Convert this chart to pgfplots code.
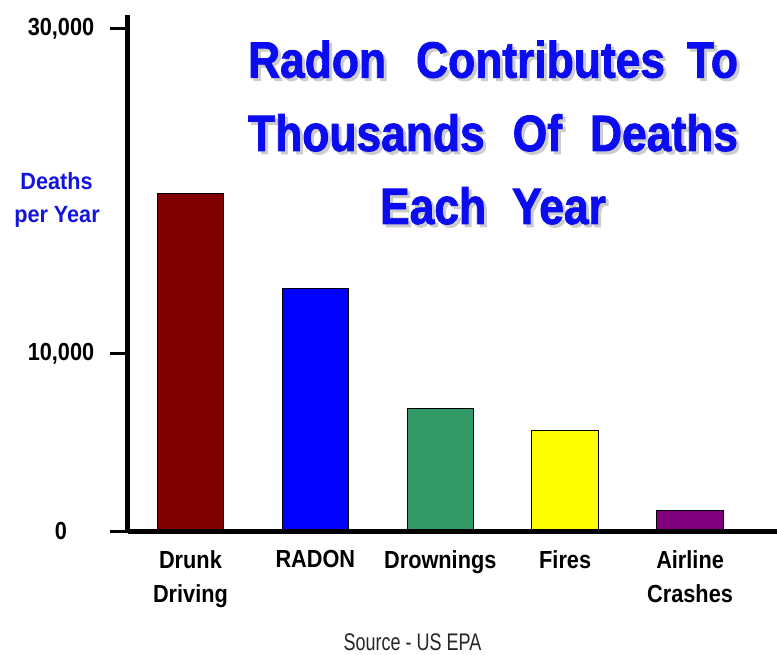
\documentclass[border=0pt]{standalone}
\usepackage{pgfplots}
\pgfplotsset{compat=1.18}
\usepackage{fontspec}
\setmainfont{Liberation Sans}
\newfontfamily\titlefont{Liberation Sans}[FakeStretch=0.87, FakeBold=1.6]
\newfontfamily\lblfont{Liberation Sans}[FakeStretch=0.88]
\newfontfamily\ylblfont{Liberation Sans}[FakeStretch=0.92]
\newfontfamily\srcfont{Liberation Sans}[FakeStretch=0.75]
\definecolor{ddred}{RGB}{128,0,0}
\definecolor{radonblue}{RGB}{0,0,255}
\definecolor{drowngreen}{RGB}{51,153,102}
\definecolor{fireyellow}{RGB}{255,255,0}
\definecolor{airpurple}{RGB}{128,0,128}
\definecolor{titleblue}{RGB}{12,12,240}
\definecolor{ylabblue}{RGB}{20,20,225}
\begin{document}
\begin{tikzpicture}[x=1pt,y=1pt]
\useasboundingbox (0,0) rectangle (777,654);
\begin{axis}[
  at={(128pt,123pt)}, anchor=south west,
  scale only axis, width=649pt, height=516pt,
  xmin=-0.5, xmax=4.696, ymin=0, ymax=29038,
  axis x line=bottom, axis y line=left,
  axis line style={line width=5pt, -},
  axis on top,
  xtick={0,1,2,3,4},
  xticklabels={Drunk\\Driving, RADON, Drownings, Fires, Airline\\Crashes},
  xticklabel style={align=center, font=\lblfont\bfseries\fontsize{24.7}{34}\selectfont, text=black, anchor=north, inner sep=0pt, yshift=-1pt},
  xtick style={draw=none},
  ytick={0,10000,28250},
  yticklabels={0,{10,000},{30,000}},
  yticklabel style={font=\lblfont\bfseries\fontsize{24.7}{30}\selectfont, text=black, anchor=center, inner sep=0pt, xshift=-49pt},
  ytick style={line width=3pt, black},
  tick align=outside, major tick length=18pt,
  clip=false,
]
\addplot[ybar, bar width=66.5pt, bar shift=0pt, fill=ddred, draw=black, line width=1pt] coordinates {(0,18970)};
\addplot[ybar, bar width=66.5pt, bar shift=0pt, fill=radonblue, draw=black, line width=1pt] coordinates {(1,13660)};
\addplot[ybar, bar width=66.5pt, bar shift=0pt, fill=drowngreen, draw=black, line width=1pt] coordinates {(2,6870)};
\addplot[ybar, bar width=66.5pt, bar shift=0pt, fill=fireyellow, draw=black, line width=1pt] coordinates {(3,5680)};
\addplot[ybar, bar width=66.5pt, bar shift=0pt, fill=airpurple, draw=black, line width=1pt] coordinates {(4,1140)};
\end{axis}
% title with drop shadow
\foreach \dx/\dy/\col in {3/-3/black!20, 0/0/titleblue}{
  \node[anchor=base, inner sep=0pt, text=\col, font=\titlefont\bfseries\fontsize{51}{60}\selectfont] at (493+\dx,576.4+\dy) {Radon\hspace{30pt}Contributes\hspace{22pt}To};
  \node[anchor=base, inner sep=0pt, text=\col, font=\titlefont\bfseries\fontsize{51}{60}\selectfont] at (493+\dx,503+\dy) {Thousands\hspace{28pt}Of\hspace{28pt}Deaths};
  \node[anchor=base, inner sep=0pt, text=\col, font=\titlefont\bfseries\fontsize{51}{60}\selectfont] at (493+\dx,430+\dy) {Each\hspace{26pt}Year};
}
% y label
\node[anchor=base, inner sep=0pt, text=ylabblue, font=\ylblfont\bfseries\fontsize{23.5}{30}\selectfont] at (56.5,464) {Deaths};
\node[anchor=base, inner sep=0pt, text=ylabblue, font=\ylblfont\bfseries\fontsize{23.5}{30}\selectfont] at (57,431) {per Year};
% source
\node[anchor=base, inner sep=0pt, text=black!85, font=\srcfont\fontsize{24}{30}\selectfont] at (412.5,4) {Source - US EPA};
\end{tikzpicture}
\end{document}
